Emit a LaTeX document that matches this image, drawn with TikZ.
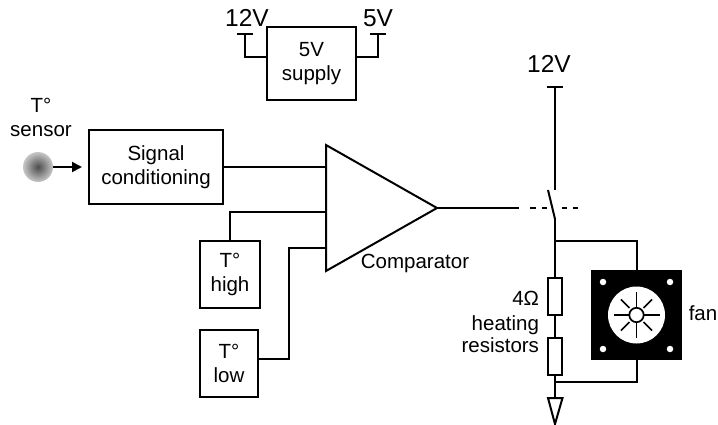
\documentclass[tikz,border=0pt]{standalone}
\usepackage{fontspec}
\setmainfont{Liberation Sans}
\usetikzlibrary{arrows.meta,calc}
\tikzset{
  lbl/.style={inner sep=0pt,outer sep=0pt,align=center,font=\fontsize{20.5}{23.5}\selectfont},
  biglbl/.style={inner sep=0pt,outer sep=0pt,font=\fontsize{24.5}{28}\selectfont},
  blockbox/.style={draw=black,line width=2pt,fill=white,inner sep=0pt,outer sep=0pt,align=center,font=\fontsize{20.5}{23.5}\selectfont},
  wire/.style={draw=black,line width=2pt},
  resbox/.style={draw=black,line width=2pt,fill=white,minimum width=14pt,minimum height=37pt,inner sep=0pt,outer sep=0pt},
  hole/.style={circle,fill=white,minimum size=6.5pt,inner sep=0pt,outer sep=0pt},
}
\begin{document}
\begin{tikzpicture}[x=1pt,y=-1pt,line join=miter]
\useasboundingbox (0,0) rectangle (718,425);

% supply
\node[blockbox,minimum width=89pt,minimum height=73pt] (sup) at (311.5,63.5) {5V\\supply};
\coordinate (t12) at (245,34);
\coordinate (t5) at (378,34);
\draw[wire] (sup.west |- 0,57) -| (t12);
\draw[wire] (sup.east |- 0,57) -| (t5);
\draw[wire] ($(t12)+(-8,0)$) -- ($(t12)+(8,0)$);
\draw[wire] ($(t5)+(-8,0)$) -- ($(t5)+(8,0)$);
\node[biglbl,anchor=base] (lab12) at (247,27) {12V};
\node[biglbl,anchor=base] (lab5) at (378,27) {5V};

% sensor
\node[lbl,anchor=base] (senst) at (41,113) {T°};
\node[lbl,anchor=base] (sensl) at (41,137) {sensor};
\node[circle,minimum size=30pt,inner sep=0pt,outer sep=0pt,inner color=black!70,outer color=black!22] (sens) at (38,167) {};
\node[blockbox,minimum width=134pt,minimum height=74pt] (sig) at (156,167) {Signal\\conditioning};
\draw[wire,-{Triangle[length=10pt,width=10pt]}] (sens.east) -- ($(sig.west)+(-7,0)$);

% comparator
\coordinate (ca) at (326,145);
\coordinate (cb) at (326,271);
\coordinate (cc) at (437,208);
\draw[wire,fill=white] (ca) -- (cc) -- (cb) -- cycle;
\node[lbl,anchor=base] (clab) at (415,268) {Comparator};

% thresholds
\node[blockbox,minimum width=60pt,minimum height=67pt] (hi) at (230,274.5) {T°\\high};
\node[blockbox,minimum width=58pt,minimum height=67pt] (lo) at (229,363.5) {T°\\low};
\draw[wire] (sig.east) -- (ca |- sig.east);
\draw[wire] (hi.north) |- (326,212);
\draw[wire] (lo.east |- 0,359) -| (289,248) -- (326,248);

% switch
\coordinate (tv) at (555,87);
\coordinate (swt) at (555,190);
\coordinate (swa) at (548,190);
\coordinate (swb) at (555,219);
\coordinate (top) at (555,241);
\coordinate (botj) at (555,382);
\coordinate (dashs) at (519,208);
\node[biglbl,anchor=base] (lab12b) at (549,73) {12V};
\draw[wire] ($(tv)+(-8,0)$) -- ($(tv)+(8,0)$);
\draw[wire] (tv) -- (swt);
\draw[wire] (swa) -- (swb);
\draw[wire] (cc) -- (dashs);
\draw[wire] (530,208) -- (535.5,208);
\draw[wire] (542,208) -- (547,208);
\draw[wire] (562,208) -- (567,208);
\draw[wire] (573,208) -- (578,208);

% resistors
\node[resbox] (r1) at (555,296.5) {};
\node[resbox] (r2) at (555,356) {};
\draw[wire] (swb) -- (r1.north);
\draw[wire] (r1.south) -- (r2.north);
\coordinate (gnd) at (555,397);
\draw[wire] (r2.south) -- (gnd);
\draw[wire] (548,398) -- (562.5,398) -- (555,424) -- cycle;
\node[lbl,anchor=base east] (rl1) at (539,305) {4Ω};
\node[lbl,anchor=base east] (rl2) at (539,330) {heating};
\node[lbl,anchor=base east] (rl3) at (539,352.5) {resistors};

% fan
\node[fill=black,minimum width=91pt,minimum height=90pt,inner sep=0pt,outer sep=0pt] (fan) at (636.5,315) {};
\draw[wire] (top) -- (fan.north |- top) -- (fan.north);
\draw[wire] (botj) -- (fan.south |- botj) -- (fan.south);
\fill[white] (fan.center) circle (28.5pt);
\foreach \a in {0,90,180,270}
  \draw[black,line width=1.7pt] (fan.center) -- ++(\a:23);
\foreach \a in {45,135,225,315}
  \draw[black,line width=1.7pt] ($(fan.center)+(\a:10)$) -- ($(fan.center)+(\a:22)$);
\filldraw[fill=white,draw=black,line width=1.7pt] (fan.center) circle (7.2pt);
\node[hole] (h1) at (603,282) {};
\node[hole] (h2) at (670,282) {};
\node[hole] (h3) at (603,349) {};
\node[hole] (h4) at (670,349) {};
\node[lbl,anchor=base] (fanl) at (703,320) {fan};
\end{tikzpicture}
\end{document}
